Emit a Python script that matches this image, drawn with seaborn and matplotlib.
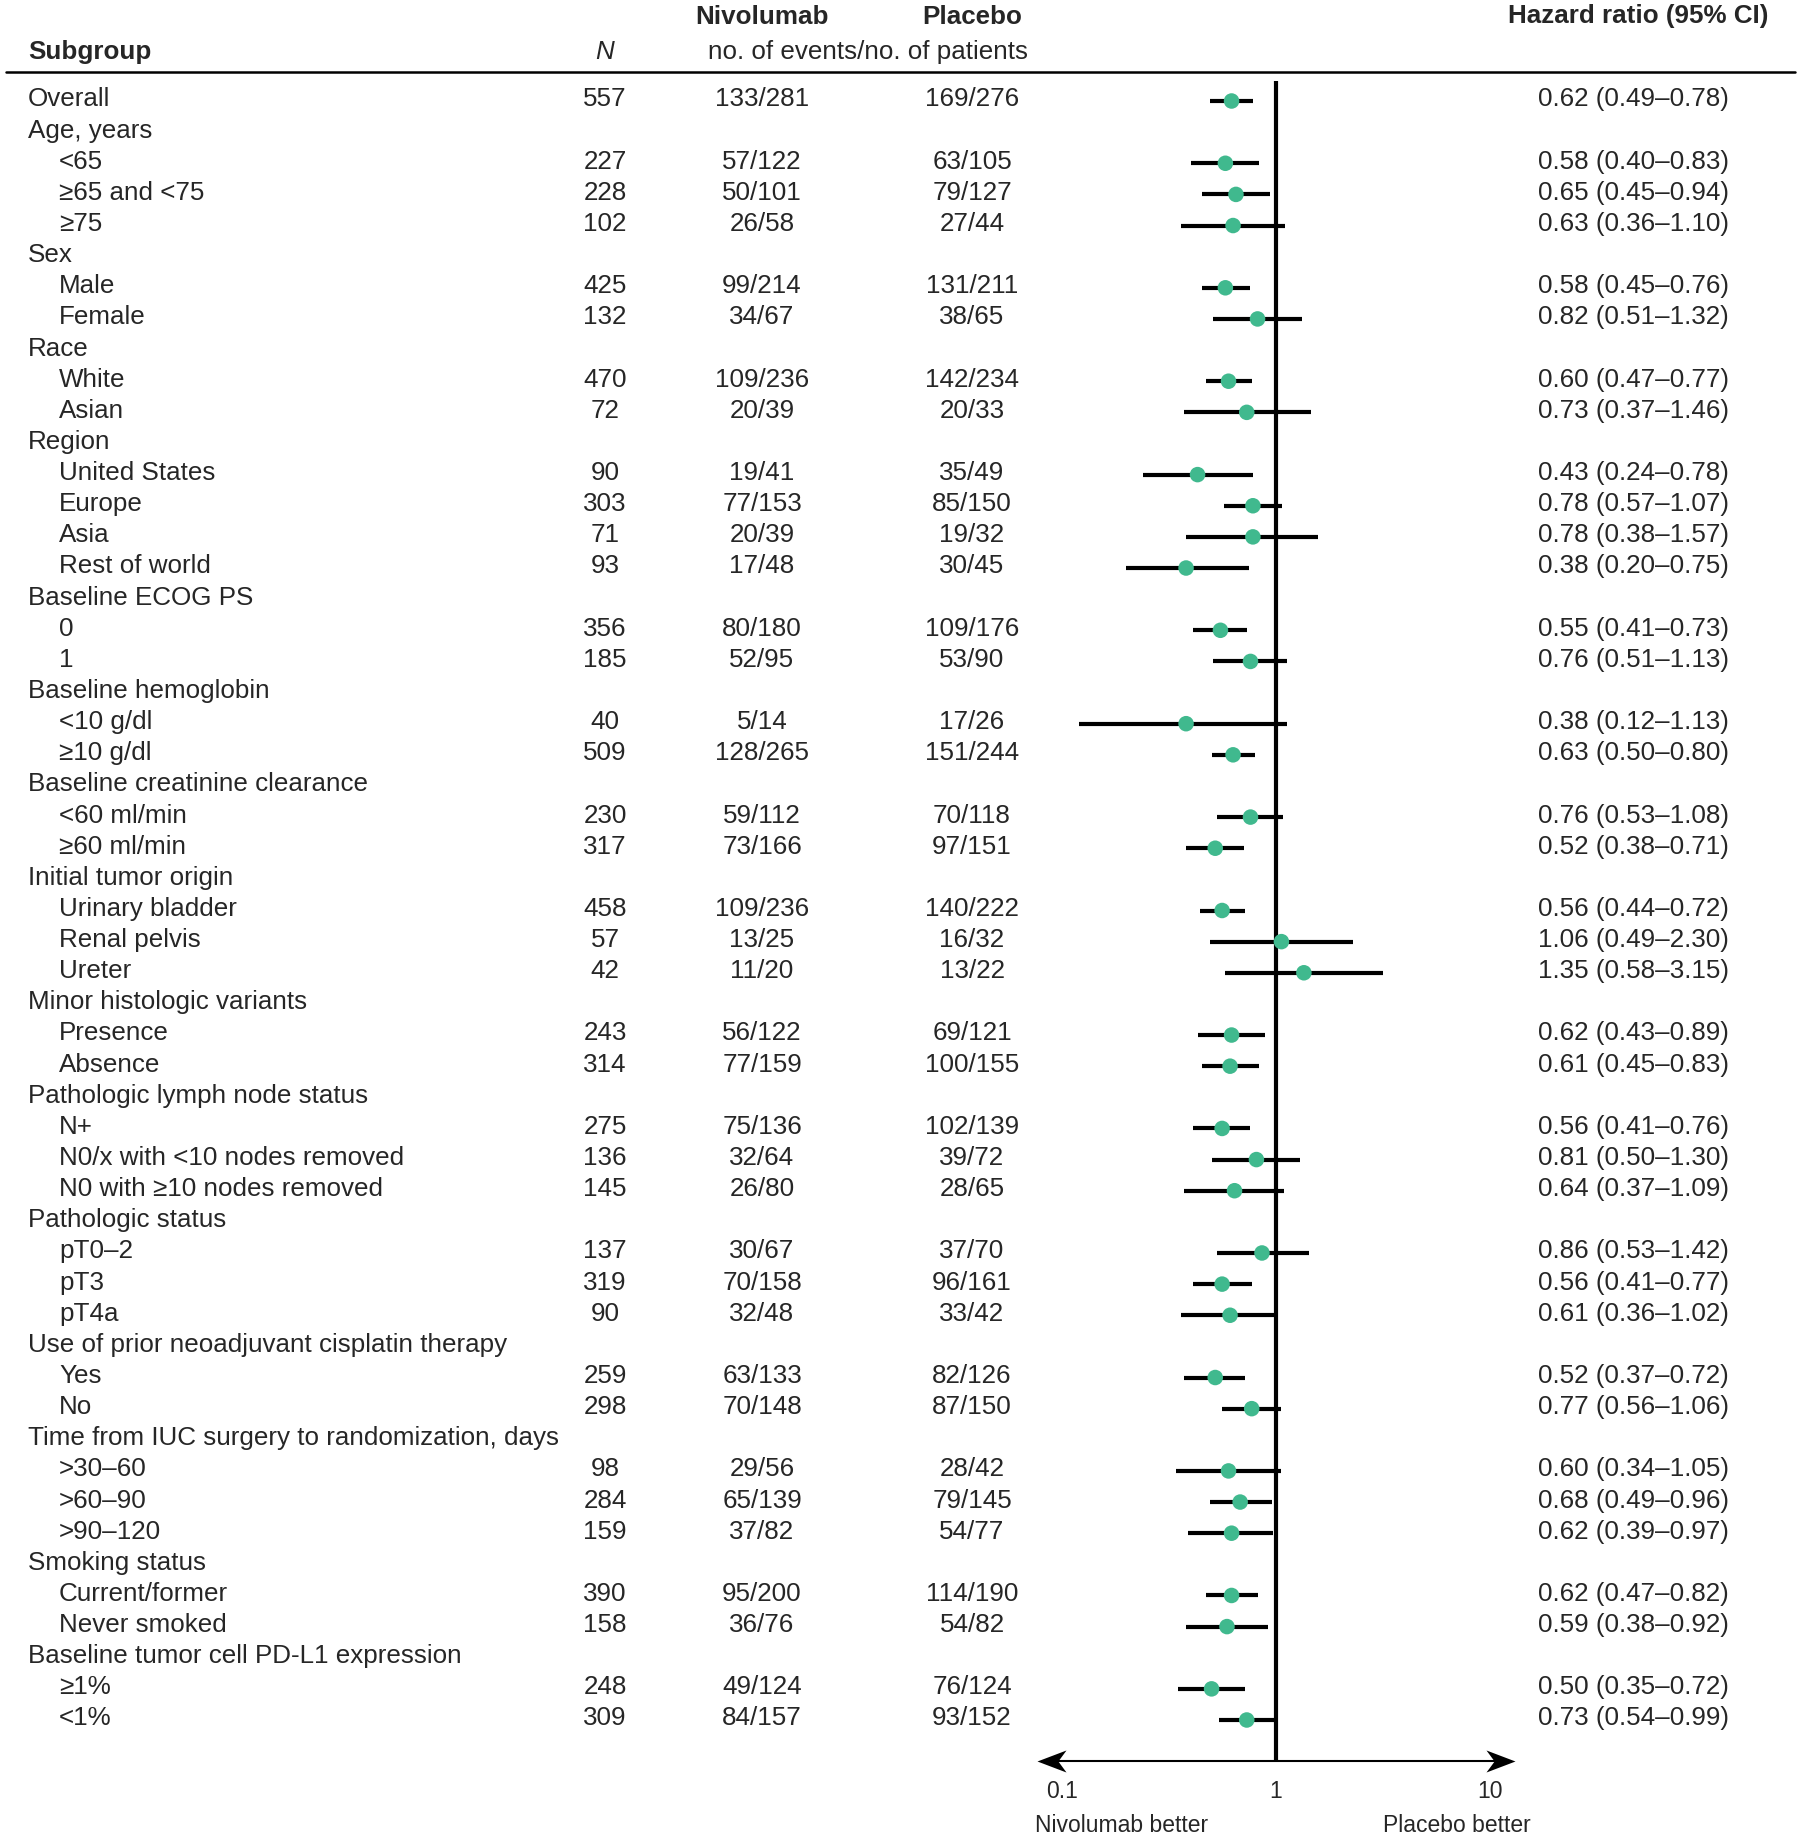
import numpy as np
import pandas as pd
import matplotlib
matplotlib.use("Agg")
import matplotlib.pyplot as plt
import seaborn as sns
from matplotlib.transforms import blended_transform_factory
from matplotlib.path import Path

sns.set_theme(style="white")
plt.rcParams['font.family'] = ['Liberation Sans', 'DejaVu Sans']

# ---------------- data ----------------
labels = [
    "Overall", "Age, years", "<65", "≥65 and <75", "≥75",
    "Sex", "Male", "Female",
    "Race", "White", "Asian",
    "Region", "United States", "Europe", "Asia", "Rest of world",
    "Baseline ECOG PS", "0", "1",
    "Baseline hemoglobin", "<10 g/dl", "≥10 g/dl",
    "Baseline creatinine clearance", "<60 ml/min", "≥60 ml/min",
    "Initial tumor origin", "Urinary bladder", "Renal pelvis", "Ureter",
    "Minor histologic variants", "Presence", "Absence",
    "Pathologic lymph node status", "N+", "N0/x with <10 nodes removed", "N0 with ≥10 nodes removed",
    "Pathologic status", "pT0–2", "pT3", "pT4a",
    "Use of prior neoadjuvant cisplatin therapy", "Yes", "No",
    "Time from IUC surgery to randomization, days", ">30–60", ">60–90", ">90–120",
    "Smoking status", "Current/former", "Never smoked",
    "Baseline tumor cell PD-L1 expression", "≥1%", "<1%",
]
indented = [
    0, 0, 1, 1, 1,
    0, 1, 1,
    0, 1, 1,
    0, 1, 1, 1, 1,
    0, 1, 1,
    0, 1, 1,
    0, 1, 1,
    0, 1, 1, 1,
    0, 1, 1,
    0, 1, 1, 1,
    0, 1, 1, 1,
    0, 1, 1,
    0, 1, 1, 1,
    0, 1, 1,
    0, 1, 1,
]
n_patients = [
    "557", "", "227", "228", "102",
    "", "425", "132",
    "", "470", "72",
    "", "90", "303", "71", "93",
    "", "356", "185",
    "", "40", "509",
    "", "230", "317",
    "", "458", "57", "42",
    "", "243", "314",
    "", "275", "136", "145",
    "", "137", "319", "90",
    "", "259", "298",
    "", "98", "284", "159",
    "", "390", "158",
    "", "248", "309",
]
nivolumab_events = [
    "133/281", "", "57/122", "50/101", "26/58",
    "", "99/214", "34/67",
    "", "109/236", "20/39",
    "", "19/41", "77/153", "20/39", "17/48",
    "", "80/180", "52/95",
    "", "5/14", "128/265",
    "", "59/112", "73/166",
    "", "109/236", "13/25", "11/20",
    "", "56/122", "77/159",
    "", "75/136", "32/64", "26/80",
    "", "30/67", "70/158", "32/48",
    "", "63/133", "70/148",
    "", "29/56", "65/139", "37/82",
    "", "95/200", "36/76",
    "", "49/124", "84/157",
]
placebo_events = [
    "169/276", "", "63/105", "79/127", "27/44",
    "", "131/211", "38/65",
    "", "142/234", "20/33",
    "", "35/49", "85/150", "19/32", "30/45",
    "", "109/176", "53/90",
    "", "17/26", "151/244",
    "", "70/118", "97/151",
    "", "140/222", "16/32", "13/22",
    "", "69/121", "100/155",
    "", "102/139", "39/72", "28/65",
    "", "37/70", "96/161", "33/42",
    "", "82/126", "87/150",
    "", "28/42", "79/145", "54/77",
    "", "114/190", "54/82",
    "", "76/124", "93/152",
]
nan = np.nan
hazard_ratio = [
    0.62, nan, 0.58, 0.65, 0.63,
    nan, 0.58, 0.82,
    nan, 0.60, 0.73,
    nan, 0.43, 0.78, 0.78, 0.38,
    nan, 0.55, 0.76,
    nan, 0.38, 0.63,
    nan, 0.76, 0.52,
    nan, 0.56, 1.06, 1.35,
    nan, 0.62, 0.61,
    nan, 0.56, 0.81, 0.64,
    nan, 0.86, 0.56, 0.61,
    nan, 0.52, 0.77,
    nan, 0.60, 0.68, 0.62,
    nan, 0.62, 0.59,
    nan, 0.50, 0.73,
]
ci_low = [
    0.49, nan, 0.40, 0.45, 0.36,
    nan, 0.45, 0.51,
    nan, 0.47, 0.37,
    nan, 0.24, 0.57, 0.38, 0.20,
    nan, 0.41, 0.51,
    nan, 0.12, 0.50,
    nan, 0.53, 0.38,
    nan, 0.44, 0.49, 0.58,
    nan, 0.43, 0.45,
    nan, 0.41, 0.50, 0.37,
    nan, 0.53, 0.41, 0.36,
    nan, 0.37, 0.56,
    nan, 0.34, 0.49, 0.39,
    nan, 0.47, 0.38,
    nan, 0.35, 0.54,
]
ci_high = [
    0.78, nan, 0.83, 0.94, 1.10,
    nan, 0.76, 1.32,
    nan, 0.77, 1.46,
    nan, 0.78, 1.07, 1.57, 0.75,
    nan, 0.73, 1.13,
    nan, 1.13, 0.80,
    nan, 1.08, 0.71,
    nan, 0.72, 2.30, 3.15,
    nan, 0.89, 0.83,
    nan, 0.76, 1.30, 1.09,
    nan, 1.42, 0.77, 1.02,
    nan, 0.72, 1.06,
    nan, 1.05, 0.96, 0.97,
    nan, 0.82, 0.92,
    nan, 0.72, 0.99,
]
x_ticks = [0.1, 1, 10]
x_tick_labels = ["0.1", "1", "10"]

df = pd.DataFrame({
    "label": labels, "indent": indented, "n": n_patients,
    "nivo": nivolumab_events, "plac": placebo_events,
    "hr": hazard_ratio, "lo": ci_low, "hi": ci_high,
})
df["row"] = np.arange(len(df))

# ---------------- layout ----------------
W, H = 1800, 1836
fig = plt.figure(figsize=(W / 100, H / 100), dpi=100)

ax_left, ax_right = 1062, 1490
ax_top, ax_bottom = 81, 1761
row0_y, rowlast_y = 101, 1720
nrows = len(df)
step = (rowlast_y - row0_y) / (nrows - 1)
ylim_top = -(row0_y - ax_top) / step
ylim_bot = (nrows - 1) + (ax_bottom - rowlast_y) / step

ax = fig.add_axes([ax_left / W, 1 - ax_bottom / H,
                   (ax_right - ax_left) / W, (ax_bottom - ax_top) / H])
ax.set_xscale("log")
ax.set_xlim(0.1, 10)
ax.set_ylim(ylim_bot, ylim_top)
for s in ax.spines.values():
    s.set_visible(False)
ax.set_yticks([])

fs = 18.7
fs_small = 16.5
green = "#40B98E"
data = df.dropna(subset=["hr"])
ax.axvline(1, color="black", lw=3.0, zorder=1)
ax.hlines(data["row"], data["lo"], data["hi"], color="black", lw=3.0, zorder=2)
sns.scatterplot(data=data, x="hr", y="row", color=green, s=125,
                edgecolor="none", linewidth=0, zorder=3, ax=ax, legend=False)
ax.set_xlabel("")
ax.set_ylabel("")
ax.set_xticks(x_ticks)
ax.set_xticklabels(x_tick_labels, fontsize=fs_small)
ax.xaxis.set_minor_locator(matplotlib.ticker.NullLocator())
ax.tick_params(axis="x", length=0, pad=14)

# double-headed axis arrow (thin line + notched heads)
xl, xr = -0.058, 1.058
ax.plot([xl + 0.02, xr - 0.02], [0, 0], transform=ax.transAxes, color="black",
        lw=1.5, clip_on=False, zorder=4)
head_r = Path([(0, 0), (-1, 0.38), (-0.72, 0), (-1, -0.38), (0, 0)],
              [Path.MOVETO, Path.LINETO, Path.LINETO, Path.LINETO, Path.CLOSEPOLY])
head_l = Path([(0, 0), (1, 0.38), (0.72, 0), (1, -0.38), (0, 0)],
              [Path.MOVETO, Path.LINETO, Path.LINETO, Path.LINETO, Path.CLOSEPOLY])
ms = 2 * 29 * 0.72
ax.plot([xr], [0], transform=ax.transAxes, marker=head_r, ms=ms, color="black",
        mec="none", clip_on=False, zorder=5, linestyle="none")
ax.plot([xl], [0], transform=ax.transAxes, marker=head_l, ms=ms, color="black",
        mec="none", clip_on=False, zorder=5, linestyle="none")

# ---------------- text columns ----------------
trans = blended_transform_factory(fig.transFigure, ax.transData)
dy = -0.05
for _, r in df.iterrows():
    x0 = 59 if r["indent"] else 28
    y = r["row"] + dy
    ax.text(x0 / W, y, r["label"], transform=trans, ha="left",
            va="center", fontsize=fs, clip_on=False)
    if r["n"]:
        ax.text(605 / W, y, r["n"], transform=trans, ha="center",
                va="center", fontsize=fs, clip_on=False)
        ax.text(762 / W, y, r["nivo"], transform=trans, ha="center",
                va="center", fontsize=fs, clip_on=False)
        ax.text(972 / W, y, r["plac"], transform=trans, ha="center",
                va="center", fontsize=fs, clip_on=False)
    if not np.isnan(r["hr"]):
        txt = f"{r['hr']:.2f} ({r['lo']:.2f}–{r['hi']:.2f})"
        ax.text(1729 / W, y, txt, transform=trans, ha="right",
                va="center", fontsize=fs, clip_on=False)

# ---------------- header ----------------
def fy(y):
    return 1 - y / H

fig.text(762 / W, fy(17), "Nivolumab", ha="center", va="center",
         fontsize=fs, fontweight="bold")
fig.text(972 / W, fy(17), "Placebo", ha="center", va="center",
         fontsize=fs, fontweight="bold")
fig.text(1768 / W, fy(16), "Hazard ratio (95% CI)", ha="right", va="center",
         fontsize=fs, fontweight="bold")
fig.text(28 / W, fy(52), "Subgroup", ha="left", va="center",
         fontsize=fs, fontweight="bold")
fig.text(605 / W, fy(52), "N", ha="center", va="center",
         fontsize=fs, fontstyle="italic")
fig.text(868 / W, fy(52), "no. of events/no. of patients", ha="center",
         va="center", fontsize=fs)
fig.add_artist(plt.Line2D([6 / W, 1795 / W], [fy(72), fy(72)],
                          color="black", lw=1.8))

fig.text(1122 / W, fy(1825), "Nivolumab better", ha="center", va="center",
         fontsize=fs_small)
fig.text(1457 / W, fy(1825), "Placebo better", ha="center", va="center",
         fontsize=fs_small)

fig.savefig("out.png", dpi=100, facecolor="white")
